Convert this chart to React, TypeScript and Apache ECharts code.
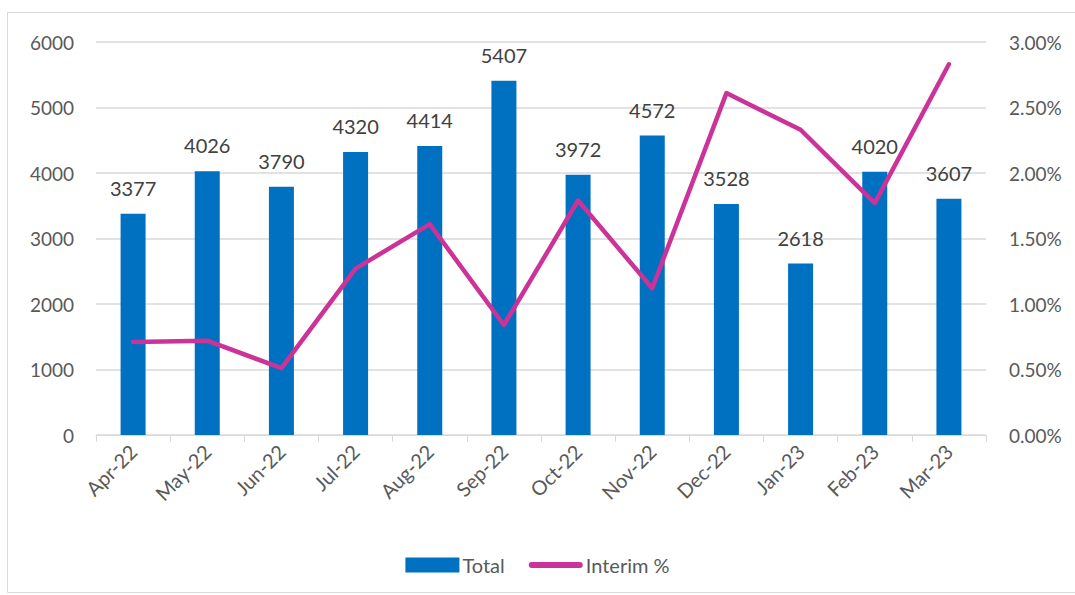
import React, { useEffect, useRef } from "react";
import * as echarts from "echarts";

const categories = ["Apr-22", "May-22", "Jun-22", "Jul-22", "Aug-22", "Sep-22", "Oct-22", "Nov-22", "Dec-22", "Jan-23", "Feb-23", "Mar-23"];
const totals = [3377, 4026, 3790, 4320, 4414, 5407, 3972, 4572, 3528, 2618, 4020, 3607];
const interimPct = [0.71, 0.72, 0.51, 1.27, 1.61, 0.84, 1.79, 1.12, 2.61, 2.33, 1.77, 2.83];

const FONT = "Lato, 'Open Sans', sans-serif";

export default function App() {
  const ref = useRef<HTMLDivElement>(null);
  useEffect(() => {
    if (!ref.current) return;
    const chart = echarts.init(ref.current, null, { renderer: "svg" });
    chart.setOption({
      animation: false,
      backgroundColor: "#ffffff",
      textStyle: { fontFamily: FONT },
      graphic: [
        {
          type: "rect",
          shape: { x: 7.5, y: 12.5, width: 1100, height: 580 },
          style: { fill: "none", stroke: "#d9d9d9", lineWidth: 1 },
          silent: true,
          z: -10,
        },
      ],
      grid: { left: 96, right: 89, top: 42, bottom: 160, containLabel: false },
      legend: {
        bottom: 15,
        left: "center",
        itemWidth: 54,
        itemHeight: 15,
        itemGap: 24,
        textStyle: { fontFamily: FONT, fontSize: 20, color: "#595959", padding: [0, 0, 0, -2] },
        data: [
          { name: "Total", icon: "rect" },
          { name: "Interim %", icon: "path://M3,0 h48 a3,3 0 0 1 0,6 h-48 a3,3 0 0 1 0,-6 z" },
        ],
      },
      xAxis: {
        type: "category",
        data: categories,
        boundaryGap: true,
        axisLine: { show: true, lineStyle: { color: "#d9d9d9", width: 1 } },
        axisTick: { show: true, length: 7, lineStyle: { color: "#d9d9d9" } },
        axisLabel: {
          rotate: 45,
          interval: 0,
          margin: 13,
          fontFamily: FONT,
          fontSize: 20,
          color: "#595959",
        },
      },
      yAxis: [
        {
          type: "value",
          min: 0,
          max: 6000,
          interval: 1000,
          axisLine: { show: false },
          axisTick: { show: false },
          splitLine: { lineStyle: { color: "#d9d9d9", width: 1.5 } },
          axisLabel: {
            margin: 22,
            fontFamily: FONT,
            fontSize: 19,
            color: "#595959",
            formatter: (v: number) => String(v),
          },
        },
        {
          type: "value",
          min: 0,
          max: 3,
          interval: 0.5,
          axisLine: { show: false },
          axisTick: { show: false },
          splitLine: { show: false },
          axisLabel: {
            margin: 23,
            fontFamily: FONT,
            fontSize: 19,
            color: "#595959",
            formatter: (v: number) => v.toFixed(2) + "%",
          },
        },
      ],
      series: [
        {
          name: "Total",
          type: "bar",
          data: totals,
          barWidth: 25,
          itemStyle: { color: "#0070C0" },
          label: {
            show: true,
            position: "top",
            distance: 16,
            fontFamily: FONT,
            fontSize: 20,
            color: "#404040",
          },
        },
        {
          name: "Interim %",
          type: "line",
          yAxisIndex: 1,
          data: interimPct,
          symbol: "none",
          lineStyle: { color: "#CC3399", width: 4.5, cap: "round", join: "round" },
          itemStyle: { color: "#CC3399" },
        },
      ],
    });
    return () => chart.dispose();
  }, []);
  return <div ref={ref} style={{ position: "absolute", left: 0, top: 0, width: 1075, height: 595 }} />;
}
